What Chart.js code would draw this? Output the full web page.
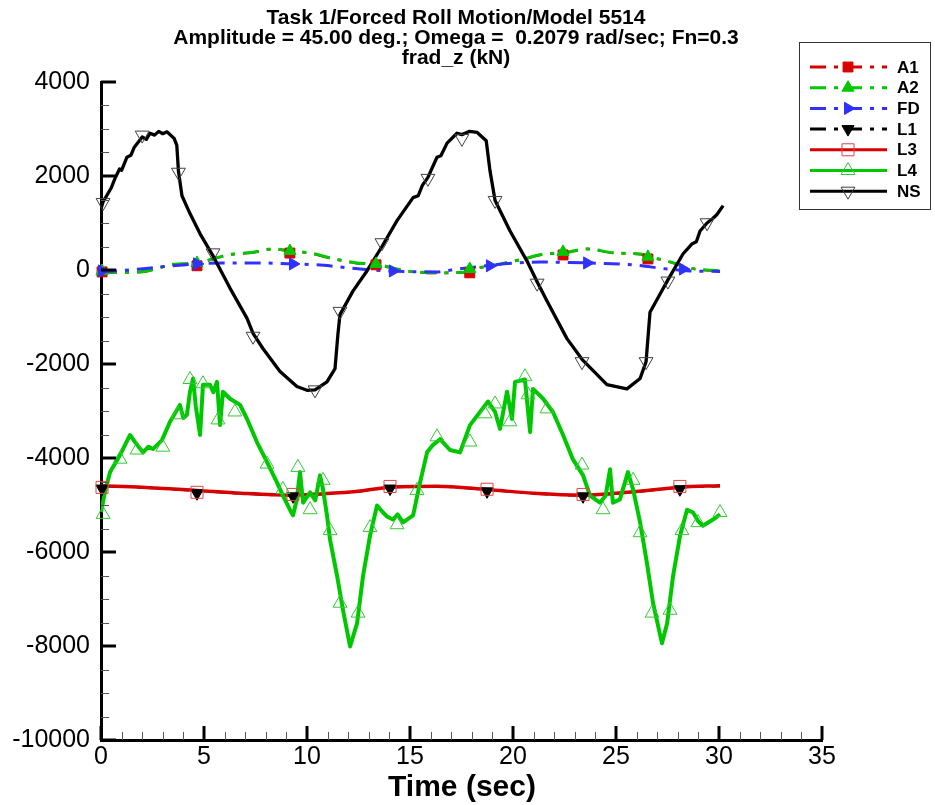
<!DOCTYPE html>
<html>
<head>
<meta charset="utf-8">
<script src="https://cdn.jsdelivr.net/npm/chart.js@4.4.0/dist/chart.umd.min.js"></script>
<style>
html, body { margin: 0; padding: 0; background: #fff; }
#wrap { width: 935px; height: 805px; position: relative; }
</style>
</head>
<body>
<div id="wrap"><canvas id="chart" width="935" height="805"></canvas></div>
<script>
// Series: time (sec) and frad_z (kN)
const seriesNames = ['A1', 'A2', 'FD', 'L1', 'L3', 'L4', 'NS'];

const a1Time = [0, 1.9, 3.5, 4.66, 5.6, 6.4, 7.3, 8.4, 9.17, 10.2, 11.1, 12.4, 13.35, 14.85, 16.3, 17.9, 18.3, 19.4, 20.5, 21.5, 22.43, 23.6, 24.9, 26.2, 26.55, 27.5, 28.6, 30.05];
const a1Force = [-55, -45, 115, 145, 255, 335, 365, 445, 400, 355, 255, 145, 115, -25, -65, -35, 35, 125, 230, 335, 360, 445, 360, 335, 285, 185, 35, -25];
const a1MarkTime = [0.05, 4.66, 9.17, 13.35, 17.9, 22.43, 26.55];
const a1MarkForce = [-40, 90, 360, 110, -60, 320, 235];

const a2Time = [0, 1.9, 3.5, 4.66, 5.6, 6.4, 7.3, 8.4, 9.17, 10.2, 11.1, 12.4, 13.35, 14.85, 16.3, 17.9, 18.3, 19.4, 20.5, 21.5, 22.43, 23.6, 24.9, 26.2, 26.55, 27.5, 28.6, 30.05];
const a2Force = [-50, -40, 120, 150, 260, 340, 370, 450, 405, 360, 260, 150, 120, -20, -60, -30, 40, 130, 235, 340, 365, 450, 365, 340, 290, 190, 40, -20];
const a2MarkTime = [0.05, 4.66, 9.17, 13.35, 17.9, 22.43, 26.55];
const a2MarkForce = [-20, 150, 405, 130, 20, 385, 280];

const fdTime = [0, 1.9, 3.5, 4.66, 5.9, 7.57, 9.3, 10.8, 12.1, 14.0, 16.3, 17.0, 18.88, 20.2, 21.3, 23.6, 25.8, 27.5, 28.6, 30.05];
const fdForce = [-40, 20, 90, 130, 150, 150, 130, 100, 40, -20, -40, 0, 100, 150, 170, 150, 110, 20, -20, -30];
const fdMarkTime = [0.05, 4.66, 9.32, 14.17, 18.88, 23.6, 28.25];
const fdMarkForce = [-20, 130, 130, -20, 90, 150, 20];

const l1Time = [0, 2.0, 4.66, 6.8, 9.32, 10.8, 12.6, 14.03, 16.3, 18.74, 21.0, 23.4, 25.8, 28.1, 30.05];
const l1Force = [-4595, -4625, -4695, -4755, -4795, -4765, -4705, -4625, -4605, -4675, -4755, -4795, -4725, -4625, -4595];
const l1MarkTime = [0.05, 4.66, 9.32, 14.03, 18.74, 23.4, 28.1];
const l1MarkForce = [-4650, -4750, -4815, -4650, -4710, -4815, -4665];

const l3Time = [0, 2.0, 4.66, 6.8, 9.32, 10.8, 12.6, 14.03, 16.3, 18.74, 21.0, 23.4, 25.8, 28.1, 30.05];
const l3Force = [-4590, -4620, -4690, -4750, -4790, -4760, -4700, -4620, -4600, -4670, -4750, -4790, -4720, -4620, -4590];
const l3MarkTime = [0.05, 4.66, 9.32, 14.03, 18.74, 23.4, 28.1];
const l3MarkForce = [-4625, -4730, -4775, -4605, -4665, -4775, -4605];

const l4Time = [0, 0.19, 0.44, 0.92, 1.41, 1.75, 2.04, 2.3, 2.52, 2.96, 3.35, 3.83, 4.0, 4.17, 4.32, 4.47, 4.6, 4.81, 4.95, 5.29, 5.45, 5.63, 5.78, 5.92, 6.26, 6.75, 7.09, 7.57, 8.06, 8.54, 8.83, 9.17, 9.32, 9.5, 9.66, 9.81, 10.15, 10.4, 10.63, 10.78, 10.97, 11.12, 11.46, 11.75, 12.09, 12.43, 12.72, 13.06, 13.4, 13.69, 13.9, 14.17, 14.4, 14.66, 15.15, 15.49, 15.83, 16.12, 16.46, 16.94, 17.43, 17.91, 18.4, 18.79, 19.13, 19.37, 19.71, 19.95, 20.1, 20.58, 20.83, 20.97, 21.46, 21.94, 22.43, 22.91, 23.4, 23.74, 24.22, 24.5, 24.71, 24.85, 25.19, 25.58, 25.83, 26.17, 26.5, 26.8, 27.23, 27.48, 27.77, 28.11, 28.45, 28.74, 29.0, 29.22, 29.71, 30.05];
const l4Force = [-5150, -4730, -4300, -3940, -3510, -3720, -3880, -3760, -3810, -3620, -3230, -2870, -3150, -3080, -2590, -2310, -2900, -3510, -2440, -2440, -2600, -2380, -3300, -2590, -2740, -2870, -3170, -3660, -4090, -4520, -4800, -5100, -5220, -4900, -4300, -4950, -4730, -4900, -4370, -4670, -5220, -5740, -6510, -7240, -8010, -7520, -6510, -5650, -5010, -5160, -5250, -5310, -5200, -5370, -5220, -4520, -3880, -3720, -3600, -3830, -3880, -3300, -3020, -2800, -3020, -3380, -2590, -3170, -2380, -2330, -3450, -2530, -2740, -3020, -3510, -4030, -4370, -4800, -4950, -4800, -4240, -4950, -4880, -4300, -4670, -5370, -6230, -7090, -7940, -7520, -6510, -5650, -5100, -5160, -5350, -5440, -5310, -5200];
const l4MarkTime = [0.1, 0.92, 1.75, 3.0, 3.74, 4.32, 4.95, 5.68, 6.5, 8.06, 8.83, 9.56, 10.15, 10.78, 11.12, 11.6, 12.48, 13.06, 14.37, 15.34, 16.31, 17.91, 18.64, 19.13, 19.85, 20.58, 20.73, 21.65, 23.35, 24.37, 25.83, 26.17, 26.75, 27.62, 28.2, 28.98, 30.05];
const l4MarkForce = [-5200, -4025, -3830, -3770, -3080, -2330, -2420, -3190, -3020, -4130, -4670, -4200, -5100, -4475, -5545, -7090, -7300, -5480, -5420, -4690, -3550, -3660, -3060, -2850, -3230, -2270, -2655, -2955, -4150, -5100, -4475, -5590, -7300, -7240, -5545, -5375, -5160];

const nsTime = [0, 0.1, 0.5, 0.68, 0.9, 1.0, 1.26, 1.45, 1.6, 2.0, 2.2, 2.38, 2.6, 2.8, 3.0, 3.2, 3.55, 3.68, 3.76, 3.93, 4.32, 4.81, 5.44, 6.26, 7.09, 7.38, 7.86, 8.69, 9.51, 10.0, 10.39, 10.97, 11.36, 11.5, 11.6, 12.23, 12.91, 13.64, 14.37, 15.15, 15.4, 15.6, 15.87, 16.31, 16.5, 16.8, 17.28, 17.52, 17.9, 18.25, 18.7, 18.88, 19.13, 19.85, 20.68, 21.17, 21.65, 22.62, 23.35, 24.56, 25.53, 26.17, 26.46, 26.65, 27.14, 27.52, 28.25, 28.7, 28.9, 29.08, 29.42, 29.71, 29.9, 30.2];
const nsForce = [1300, 1450, 1750, 1950, 2150, 2120, 2400, 2440, 2600, 2830, 2780, 2910, 2870, 2950, 2900, 2940, 2800, 2650, 2100, 1580, 1200, 770, 300, -385, -1030, -1350, -1670, -2160, -2480, -2560, -2550, -2380, -2100, -1370, -950, -450, -20, 500, 1050, 1540, 1580, 1800, 1970, 2400, 2430, 2700, 2910, 2880, 2950, 2930, 2750, 2120, 1480, 835, 190, -250, -660, -1460, -1900, -2440, -2530, -2310, -1950, -900, -510, -210, 340, 560, 600, 830, 1000, 1100, 1180, 1370];
const nsMarkTime = [0.1, 2.0, 3.76, 5.44, 7.38, 10.39, 11.6, 13.64, 15.87, 17.52, 19.13, 21.17, 23.35, 26.46, 27.52, 29.42];
const nsMarkForce = [1435, 2870, 2080, 365, -1410, -2550, -880, 580, 1950, 2800, 1480, -280, -1950, -1950, -235, 1005];

const xTicks = [0, 5, 10, 15, 20, 25, 30, 35];
const yTicks = [-10000, -8000, -6000, -4000, -2000, 0, 2000, 4000];
const titleLines = ['Task 1/Forced Roll Motion/Model 5514', 'Amplitude = 45.00 deg.; Omega =  0.2079 rad/sec; Fn=0.3', 'frad_z (kN)'];
const xTitle = 'Time (sec)';

const FONT = "'Liberation Sans', Arial, sans-serif";
const RED = '#d80000', GREEN = '#00c800', BLUE = '#3030ff', BLACK = '#000000';
const DASH = [16, 8, 4, 8];

// styles per series (same order as seriesNames)
const styles = [
    { color: RED, width: 2.5, dash: DASH, marker: { style: 'rect', rot: 0, r: 7, fill: RED, stroke: RED, lw: 1 } },
    { color: GREEN, width: 3, dash: DASH, marker: { style: 'triangle', rot: 0, r: 7, fill: GREEN, stroke: GREEN, lw: 1 } },
    { color: BLUE, width: 3, dash: DASH, marker: { style: 'triangle', rot: 90, r: 7, fill: BLUE, stroke: BLUE, lw: 1 } },
    { color: BLACK, width: 2.5, dash: DASH, marker: { style: 'triangle', rot: 180, r: 7, fill: BLACK, stroke: BLACK, lw: 1 } },
    { color: RED, width: 3.5, dash: [], marker: { style: 'rect', rot: 0, r: 8.5, fill: null, stroke: '#e04545', lw: 1 } },
    { color: GREEN, width: 4, dash: [], marker: { style: 'triangle', rot: 0, r: 8, fill: null, stroke: '#35c835', lw: 1 } },
    { color: BLACK, width: 3.3, dash: [], marker: { style: 'triangle', rot: 180, r: 8, fill: null, stroke: '#404040', lw: 1 } }
];

const lineData = [[a1Time, a1Force], [a2Time, a2Force], [fdTime, fdForce], [l1Time, l1Force], [l3Time, l3Force], [l4Time, l4Force], [nsTime, nsForce]];
const markData = [[a1MarkTime, a1MarkForce], [a2MarkTime, a2MarkForce], [fdMarkTime, fdMarkForce], [l1MarkTime, l1MarkForce], [l3MarkTime, l3MarkForce], [l4MarkTime, l4MarkForce], [nsMarkTime, nsMarkForce]];

function toPoints(t, v) {
    return t.map((tt, i) => ({ x: tt, y: v[i] }));
}

const datasets = [];
seriesNames.forEach((name, i) => {
    const s = styles[i];
    const smooth = i < 5;
    // lines first (drawn below every symbol), later series on top
    datasets.push({
        label: name,
        data: toPoints(lineData[i][0], lineData[i][1]),
        showLine: true,
        borderColor: s.color,
        borderWidth: s.width,
        borderDash: s.dash,
        borderCapStyle: 'butt',
        borderJoinStyle: 'round',
        pointRadius: 0,
        tension: smooth ? 0.35 : 0,
        cubicInterpolationMode: smooth ? 'monotone' : 'default',
        fill: false,
        order: 20 - i
    });
    datasets.push({
        label: name + ' symbols',
        data: toPoints(markData[i][0], markData[i][1]),
        showLine: false,
        pointStyle: s.marker.style,
        pointRotation: s.marker.rot,
        pointRadius: s.marker.r,
        pointBackgroundColor: s.marker.fill || 'rgba(0,0,0,0)',
        pointBorderColor: s.marker.stroke,
        pointBorderWidth: s.marker.lw,
        clip: false,
        order: 10 - i
    });
});

function drawMarker(ctx, m, x, y) {
    ctx.save();
    ctx.translate(x, y);
    ctx.rotate(m.rot * Math.PI / 180);
    ctx.beginPath();
    if (m.style === 'rect') {
        const h = m.r * Math.SQRT1_2;
        ctx.rect(-h, -h, 2 * h, 2 * h);
    } else {
        for (let k = 0; k < 3; k++) {
            const a = k * 2 * Math.PI / 3;
            if (k === 0) ctx.moveTo(Math.sin(a) * m.r, -Math.cos(a) * m.r);
            else ctx.lineTo(Math.sin(a) * m.r, -Math.cos(a) * m.r);
        }
        ctx.closePath();
    }
    if (m.fill) {
        ctx.fillStyle = m.fill;
        ctx.fill();
    }
    ctx.setLineDash([]);
    ctx.lineWidth = m.lw;
    ctx.strokeStyle = m.stroke;
    ctx.stroke();
    ctx.restore();
}

// Tecplot-like decorations: inward ticks, titles, boxed legend
const decor = {
    id: 'decor',
    afterDraw(chart) {
        const { ctx, chartArea: a, scales: { x, y } } = chart;
        ctx.save();

        // y ticks (major every 2000, minor every 500)
        for (let v = -10000; v <= 4000; v += 500) {
            const py = Math.round(y.getPixelForValue(v));
            const major = v % 2000 === 0;
            ctx.strokeStyle = major ? '#000' : '#555';
            ctx.lineWidth = major ? 3 : 1;
            ctx.beginPath();
            ctx.moveTo(a.left, py + (major ? 0 : 0.5));
            ctx.lineTo(a.left + (major ? 15 : 8), py + (major ? 0 : 0.5));
            ctx.stroke();
        }
        // x ticks (major every 5, minor every 1)
        for (let t = 0; t <= 35; t += 1) {
            const px = Math.round(x.getPixelForValue(t));
            const major = t % 5 === 0;
            ctx.strokeStyle = major ? '#000' : '#555';
            ctx.lineWidth = major ? 3 : 1;
            ctx.beginPath();
            ctx.moveTo(px + (major ? 0 : 0.5), a.bottom);
            ctx.lineTo(px + (major ? 0 : 0.5), a.bottom - (major ? 14 : 8));
            ctx.stroke();
        }

        // titles
        ctx.fillStyle = '#000';
        ctx.textAlign = 'center';
        ctx.textBaseline = 'alphabetic';
        ctx.font = 'bold 21px ' + FONT;
        const tb = [24, 44, 64];
        titleLines.forEach((line, i) => ctx.fillText(line, 456, tb[i]));
        ctx.font = 'bold 30px ' + FONT;
        ctx.fillText(xTitle, 462, 796);

        // legend
        ctx.strokeStyle = '#333';
        ctx.lineWidth = 1;
        ctx.strokeRect(799.5, 42.5, 131, 167);
        ctx.font = 'bold 17px ' + FONT;
        ctx.textAlign = 'left';
        ctx.textBaseline = 'middle';
        seriesNames.forEach((name, i) => {
            const s = styles[i];
            const ly = 67 + i * 20.7;
            ctx.strokeStyle = s.color;
            ctx.lineWidth = 3;
            ctx.setLineDash(s.dash);
            ctx.beginPath();
            ctx.moveTo(810, ly);
            ctx.lineTo(887, ly);
            ctx.stroke();
            ctx.setLineDash([]);
            drawMarker(ctx, s.marker, 848, ly);
            ctx.fillStyle = '#000';
            ctx.fillText(name, 897, ly + 1);
        });
        ctx.restore();
    }
};

new Chart(document.getElementById('chart'), {
    type: 'scatter',
    data: { datasets: datasets },
    options: {
        responsive: false,
        animation: false,
        layout: { padding: { left: 0, top: 82, right: 113, bottom: 0 } },
        plugins: {
            legend: { display: false },
            title: { display: false },
            tooltip: { enabled: false }
        },
        scales: {
            x: {
                type: 'linear',
                min: 0,
                max: 35,
                afterBuildTicks: s => { s.ticks = xTicks.map(v => ({ value: v })); },
                ticks: {
                    color: '#000',
                    font: { family: FONT, size: 25 },
                    padding: 2,
                    maxRotation: 0,
                    autoSkip: false,
                    callback: v => String(v)
                },
                grid: { display: false, drawTicks: false },
                border: { display: true, color: '#000', width: 3 },
                afterFit: s => { s.height = 65; }
            },
            y: {
                type: 'linear',
                min: -10000,
                max: 4000,
                afterBuildTicks: s => { s.ticks = yTicks.map(v => ({ value: v })); },
                ticks: {
                    color: '#000',
                    font: { family: FONT, size: 25 },
                    padding: 11,
                    autoSkip: false,
                    callback: v => String(v)
                },
                grid: { display: false, drawTicks: false },
                border: { display: true, color: '#000', width: 3 },
                afterFit: s => { s.width = 101; }
            }
        }
    },
    plugins: [decor]
});
</script>
</body>
</html>
